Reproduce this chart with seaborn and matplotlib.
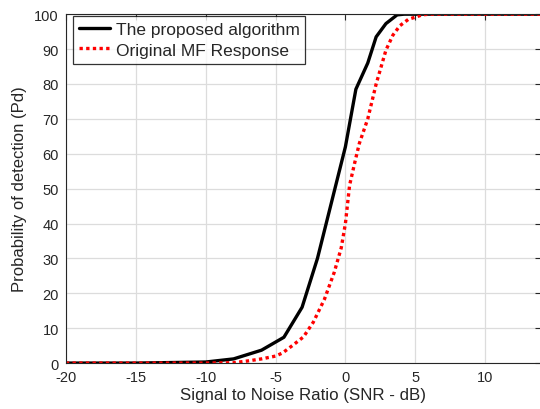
import matplotlib
matplotlib.use("Agg")
import matplotlib.pyplot as plt
import seaborn as sns

# detection probability
snr_proposed = [-20, -15, -10, -8, -6, -4.4, -3.1, -2, -1, 0, 0.75, 1.6, 2.2, 2.9, 3.7, 4.2, 6, 10, 14]
pd_proposed = [0, 0, 0.3, 1.2, 3.7, 7.4, 16, 30, 46, 62, 78.5, 86, 93.5, 97.3, 99.8, 100, 100, 100, 100]

snr_mf = [-20, -15, -10, -8, -7, -6, -5, -4.5, -3.8, -3, -2.3, -1.5, -0.8, -0.3, 0, 0.3, 0.7,
          1.0, 1.6, 2.2, 2.9, 3.4, 3.9, 4.5, 5.5, 6, 10, 14]
pd_mf = [0, 0, 0, 0.1, 0.6, 1.2, 2.0, 2.9, 5, 7.5, 11.7, 18.3, 26, 33, 40, 51, 58,
         63, 70, 80, 89.7, 94, 96.7, 98.5, 99.8, 100, 100, 100]

xticks = [-20, -15, -10, -5, 0, 5, 10]
yticks = list(range(0, 101, 10))

sns.set_style("white")
plt.rcParams["font.family"] = ["Liberation Sans", "DejaVu Sans"]
plt.rcParams["axes.unicode_minus"] = False

fig = plt.figure(figsize=(5.4, 4.1), dpi=100)
ax = fig.add_axes([0.122, 0.112, 0.88, 0.851])

sns.lineplot(x=snr_proposed, y=pd_proposed, ax=ax, color="black", linewidth=2.4,
             sort=False, label="The proposed algorithm")
sns.lineplot(x=snr_mf, y=pd_mf, ax=ax, color="#ff0000", linewidth=2.4, linestyle=(0, (1, 1)),
             sort=False, label="Original MF Response")

ax.set_xlim(-20, 14)
ax.set_ylim(0, 100)
ax.set_xticks(xticks)
ax.set_yticks(yticks)
ax.grid(True, color="#dcdcdc", linewidth=0.9)
ax.set_axisbelow(True)
for side in ax.spines.values():
    side.set_color("#262626")
    side.set_linewidth(0.8)
ax.tick_params(direction="in", top=True, right=True, length=4, width=0.8,
               labelsize=10.5, colors="#262626", pad=5)
ax.set_xlabel("Signal to Noise Ratio (SNR - dB)", fontsize=12.2, color="#262626", labelpad=2)
ax.set_ylabel("Probability of detection (Pd)", fontsize=12, color="#262626", labelpad=5)

leg = ax.legend(loc="upper left", bbox_to_anchor=(0.015, 0.995), borderaxespad=0,
                fontsize=12.5, frameon=True, fancybox=False,
                handlelength=1.8, handletextpad=0.3, borderpad=0.35, labelspacing=0.3)
leg.get_frame().set_edgecolor("black")
leg.get_frame().set_linewidth(0.9)

fig.savefig("out.png", dpi=100)
